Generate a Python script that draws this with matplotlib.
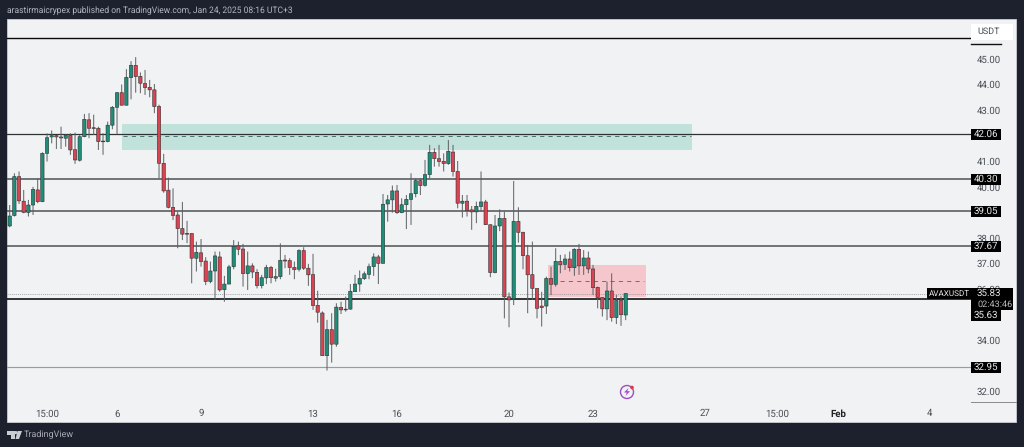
import matplotlib

matplotlib.use("Agg")
import matplotlib.pyplot as plt
from matplotlib.patches import Circle, Polygon, Rectangle
from matplotlib.transforms import blended_transform_factory

plt.rcParams["font.family"] = ["Roboto", "DejaVu Sans"]
plt.rcParams["text.hinting"] = "no_hinting"

W, H = 1024, 447

# 4h candles
opens = [
    38.47, 38.88, 40.40, 39.44, 39.00, 39.29, 39.88, 39.42, 41.31, 41.95,
    42.00, 41.95, 41.90, 42.01, 41.45, 41.04, 41.96, 42.62, 42.31, 42.29,
    41.79, 41.77, 42.41, 43.11, 43.68, 43.19, 44.27, 44.75, 44.32, 44.04,
    43.89, 43.79, 43.14, 40.92, 39.87, 39.20, 38.90, 38.37, 38.18, 38.18,
    37.21, 37.42, 37.10, 36.30, 36.71, 37.26, 35.98, 36.20, 36.88, 37.69,
    37.57, 36.61, 36.91, 36.66, 36.14, 36.44, 36.85, 36.43, 36.49, 37.14,
    37.12, 36.85, 36.78, 37.51, 36.82, 36.57, 35.37, 35.07, 33.40, 34.42,
    33.85, 35.29, 35.21, 35.22, 35.90, 36.20, 36.41, 36.58, 36.88, 37.26,
    37.01, 39.33, 39.49, 39.84, 38.99, 39.30, 39.51, 39.73, 40.24, 40.06,
    40.48, 41.35, 41.10, 41.00, 40.91, 41.36, 40.60, 39.36, 39.44, 39.10,
    39.02, 39.23, 39.41, 38.52, 36.65, 38.47, 38.77, 35.70, 35.62, 38.65,
    38.22, 37.31, 36.57, 36.03, 35.34, 35.34, 36.42, 36.19, 37.09, 36.97,
    37.18, 36.84, 37.56, 36.91, 37.22, 36.79, 36.07, 35.68, 35.23, 35.93,
    34.89, 35.56, 34.99,
]
closes = [
    38.86, 40.40, 39.45, 39.00, 39.29, 39.90, 39.42, 41.31, 41.92, 42.00,
    41.95, 41.91, 42.01, 41.44, 41.05, 41.96, 42.64, 42.29, 42.28, 41.77,
    41.76, 42.41, 43.11, 43.68, 43.19, 44.28, 44.75, 44.31, 44.05, 43.88,
    43.79, 43.14, 40.92, 39.84, 39.20, 38.88, 38.37, 38.15, 38.15, 37.21,
    37.44, 37.08, 36.30, 36.71, 37.30, 35.97, 36.20, 36.87, 37.67, 37.56,
    36.61, 36.91, 36.67, 36.14, 36.45, 36.85, 36.45, 36.49, 37.13, 37.10,
    36.85, 36.76, 37.51, 36.82, 36.56, 35.36, 35.10, 33.40, 34.42, 33.85,
    35.30, 35.19, 35.19, 35.92, 36.20, 36.42, 36.60, 36.88, 37.26, 37.01,
    39.32, 39.49, 39.84, 38.99, 39.30, 39.51, 39.73, 40.24, 40.05, 40.48,
    41.35, 41.10, 40.99, 40.91, 41.39, 40.60, 39.36, 39.44, 39.07, 39.02,
    39.24, 39.41, 38.52, 36.65, 38.47, 38.77, 35.70, 35.58, 38.65, 38.22,
    37.31, 36.56, 36.03, 35.25, 35.28, 36.42, 36.19, 37.09, 36.95, 37.18,
    36.84, 37.56, 36.91, 37.22, 36.79, 36.06, 35.67, 35.23, 35.93, 34.89,
    35.56, 35.00, 35.83,
]
highs = [
    39.29, 40.53, 40.60, 39.88, 39.49, 40.00, 40.33, 41.35, 42.09, 42.20,
    42.03, 42.35, 42.05, 42.09, 42.12, 42.03, 42.85, 42.88, 42.82, 42.35,
    42.10, 42.55, 43.16, 43.70, 44.00, 44.60, 44.91, 45.07, 44.47, 44.57,
    44.18, 44.02, 43.21, 41.29, 40.36, 39.94, 39.03, 39.41, 38.67, 38.18,
    37.86, 37.96, 37.25, 37.08, 37.47, 37.47, 36.52, 36.95, 37.92, 37.86,
    37.77, 37.47, 37.01, 36.78, 36.56, 36.95, 36.91, 36.80, 37.79, 37.34,
    37.21, 37.08, 37.56, 37.64, 36.99, 37.38, 35.94, 35.13, 34.80, 35.06,
    35.45, 35.51, 35.71, 36.20, 36.56, 36.73, 36.69, 37.00, 37.40, 37.34,
    39.72, 39.68, 40.05, 40.07, 39.55, 39.68, 40.53, 40.34, 40.34, 41.05,
    41.64, 41.51, 41.64, 41.31, 41.83, 41.64, 41.01, 39.68, 39.68, 39.25,
    39.42, 40.60, 39.49, 38.52, 38.90, 39.12, 39.03, 35.87, 40.23, 39.20,
    38.25, 37.73, 37.86, 36.03, 35.90, 36.49, 36.88, 37.60, 37.34, 37.36,
    37.47, 37.60, 37.77, 37.53, 37.47, 36.95, 36.10, 35.68, 36.29, 36.62,
    35.77, 35.71, 35.84,
]
lows = [
    38.42, 38.84, 39.33, 38.97, 38.84, 38.90, 39.36, 39.40, 40.99, 41.70,
    41.48, 41.48, 41.57, 41.25, 40.90, 40.99, 41.94, 41.90, 42.03, 41.44,
    41.25, 41.74, 42.25, 42.05, 43.19, 43.19, 43.42, 43.68, 43.66, 43.59,
    43.50, 42.88, 40.33, 39.77, 39.16, 38.70, 37.60, 37.92, 37.80, 36.23,
    36.69, 36.88, 36.16, 36.23, 35.58, 35.90, 35.51, 36.20, 36.78, 37.33,
    36.10, 35.97, 36.43, 36.03, 36.03, 36.20, 36.23, 36.30, 36.39, 36.82,
    36.56, 36.39, 36.69, 36.75, 36.13, 35.19, 34.69, 33.40, 32.82, 33.13,
    33.75, 35.03, 35.12, 35.20, 35.90, 35.90, 36.36, 36.39, 36.52, 36.20,
    37.01, 38.64, 38.99, 38.94, 38.97, 38.35, 38.51, 39.59, 39.68, 40.01,
    40.34, 40.79, 40.79, 40.60, 40.86, 40.40, 39.16, 38.80, 38.84, 38.32,
    38.58, 39.03, 38.51, 36.47, 36.62, 38.27, 34.86, 34.51, 35.38, 37.82,
    36.78, 35.06, 35.58, 34.86, 34.54, 35.03, 35.77, 36.10, 36.62, 36.75,
    36.69, 36.52, 36.56, 36.56, 36.62, 35.77, 35.25, 34.93, 34.79, 34.73,
    34.64, 34.57, 34.79,
]

# horizontal levels and how they look in the reference
level_prices = [45.82, 42.06, 40.30, 39.05, 37.67, 35.63, 32.95]
level_colors = ["#0a0a0a", "#2e3436", "#55585a", "#55585a", "#55585a", "#000000", "#9a9c9e"]
level_widths = [1.0, 0.9, 1.15, 1.15, 1.15, 1.1, 0.85]
boxed_levels = ["42.06", "40.30", "39.05", "37.67", "35.63", "32.95"]

price_ticks = [45, 44, 43, 42, 41, 40, 39, 38, 37, 36, 35, 34, 33, 32]
hidden_ticks = [42, 39, 35, 33]
time_ticks = [8, 23, 41, 65, 83, 107, 125, 149, 164.4, 177.5, 197]
time_labels = ["15:00", "6", "9", "13", "16", "20", "23", "27", "15:00", "Feb", "4"]

last_price = 35.83
countdown = "02:43:46"
symbol = "AVAXUSDT"
title = "arastirmaicrypex published on TradingView.com, Jan 24, 2025 08:16 UTC+3"

DARK = "#1d212d"
PANEL = "#f0f2f4"
UP = "#1f8d78"
DOWN = "#da4351"


def fx(x):
    return x / W


def fy(y):
    return 1 - y / H


fig = plt.figure(figsize=(W / 100, H / 100), dpi=100, facecolor=DARK)

# light panel behind chart and both axes
fig.add_artist(Rectangle((fx(7), fy(422)), fx(1009), 403 / H, transform=fig.transFigure,
                         facecolor=PANEL, edgecolor="#c9ccd1", linewidth=0.6, zorder=0))

ax = fig.add_axes([fx(7), fy(402), fx(964), 383 / H])
ax.patch.set_alpha(0)
ax.set_xlim(-0.58, 206.0)
ax.set_ylim(31.59, 46.56)
for spine in ax.spines.values():
    spine.set_visible(False)

ax.yaxis.tick_right()
ax.set_yticks([p for p in price_ticks if p not in hidden_ticks])
ax.set_yticklabels([f"{p:.2f}" for p in price_ticks if p not in hidden_ticks],
                   fontsize=6.9, color="#4a4d55")
ax.tick_params(axis="y", length=0, pad=4.0)
ax.set_xticks(time_ticks)
ax.set_xticklabels(time_labels, fontsize=6.9, color="#4a4d55")
ax.tick_params(axis="x", length=0, pad=5.0)
ax.get_xticklabels()[9].set_fontweight("bold")
ax.get_xticklabels()[9].set_color("#222428")

# zones
ax.axhspan(41.44, 42.44, xmin=(122 - 7) / 964, xmax=(692 - 7) / 964, facecolor="#c0e2da", edgecolor="none", zorder=1)
ax.plot([24.2, 146], [41.99, 41.99], color="#3f5c58", lw=0.6, dashes=(5, 5), zorder=1.2)
ax.axhspan(35.7, 36.93, xmin=(548 - 7) / 964, xmax=(646 - 7) / 964, facecolor="#f5c6cc", edgecolor="none", zorder=1)
ax.plot([117.9, 135.9], [36.3, 36.3], color="#8a4a52", lw=0.6, dashes=(5, 5), zorder=1.2)
ax.plot([-0.58, 196.3], [last_price, last_price], color="#8a8c90", lw=0.5, dashes=(1.5, 1.5), zorder=1.3)

for price, color, width in zip(level_prices, level_colors, level_widths):
    ax.axhline(price, color=color, lw=width, zorder=1.5)

# candles
for i, (o, c, h, l) in enumerate(zip(opens, closes, highs, lows)):
    ax.plot([i, i], [l, h], color="#5c5f62", lw=0.7, solid_capstyle="butt", zorder=3, snap=False)
    body = Rectangle((i - 0.36, min(o, c)), 0.72, max(abs(c - o), 0.03), snap=False,
                     facecolor=UP if c >= o else DOWN, edgecolor="#2a3434", linewidth=0.4, zorder=3.2)
    ax.add_patch(body)

# boxes on the price scale
side = ax.get_yaxis_transform()
box_w = 30 / 964
for text in boxed_levels:
    price = float(text)
    y = price
    if text == "35.63":
        y = 34.97  # pushed down under the countdown in the stack
    ax.add_patch(Rectangle((1.0, y - 0.215), box_w, 0.43, transform=side, facecolor="black",
                           edgecolor="none", clip_on=False, zorder=6))
    ax.text(1.0 + box_w / 2, y, text, transform=side, color="#e8e8e8", fontsize=7.0,
            ha="center", va="center", clip_on=False, zorder=7)

# last price stack
ax.add_patch(Rectangle((1.0, 35.19), 42 / 964, 0.86, transform=side, facecolor="black",
                       edgecolor="none", clip_on=False, zorder=6))
ax.text(1.0 + 6 / 964, 35.83, f"{last_price:.2f}", transform=side, color="#e8e8e8", fontsize=7.0,
        va="center", clip_on=False, zorder=7)
ax.text(1.0 + 6 / 964, 35.41, countdown, transform=side, color="#b8b8b8", fontsize=6.6,
        va="center", clip_on=False, zorder=7)
ax.add_patch(Rectangle((1.0 - 44 / 964, 35.61), 44 / 964, 0.43, transform=side, facecolor="black",
                       edgecolor="none", clip_on=False, zorder=6))
ax.text(1.0 - 22 / 964, 35.83, symbol, transform=side, color="#e8e8e8", fontsize=5.9,
        ha="center", va="center", clip_on=False, zorder=7)

# currency box and the stub under it
fig.add_artist(Rectangle((fx(971), fy(40)), fx(42), 16 / H, transform=fig.transFigure,
                         facecolor="white", edgecolor="none", zorder=4))
fig.text(fx(989), fy(31.5), "USDT", fontsize=6.5, color="#4a4d55", ha="center", va="center", zorder=5)
fig.add_artist(plt.Line2D([fx(971), fx(1001)], [fy(43.5), fy(43.5)], color="#111111", lw=1.0))
fig.add_artist(plt.Line2D([fx(971), fx(1016)], [fy(402), fy(402)], color="#888a8e", lw=0.7))

# lightning icon
aspect = blended_transform_factory(fig.dpi_scale_trans, fig.dpi_scale_trans)
cx, cy = 627 / 100, (H - 392) / 100
fig.add_artist(Circle((cx, cy), 0.065, transform=aspect, facecolor="none", edgecolor="#9b4fc4", linewidth=1.0))
bolt = [(0.015, 0.04), (-0.03, -0.005), (-0.002, -0.005), (-0.015, -0.04), (0.03, 0.008), (0.002, 0.008)]
fig.add_artist(Polygon([(cx + a, cy + b) for a, b in bolt], transform=aspect, facecolor="#9b4fc4", edgecolor="none"))
fig.add_artist(Circle((cx + 0.05, cy + 0.045), 0.018, transform=aspect, facecolor="#e0364a", edgecolor="none"))

# header and footer
fig.text(fx(7), fy(11), title, fontsize=6.15, color="#b4b7c0", va="center")
fig.text(fx(24), fy(435), "TradingView", fontsize=6.5, color="#a9acb5", va="center")
logo_a = [(7, 431), (15, 431), (15, 439), (11, 439), (11, 434.5), (7, 434.5)]
logo_b = [(17.5, 431), (22, 431), (19, 439), (15.5, 439)]
for shape in (logo_a, logo_b):
    fig.add_artist(Polygon([(fx(a), fy(b)) for a, b in shape], transform=fig.transFigure,
                           facecolor="#c9ccd3", edgecolor="none"))
fig.add_artist(Circle((15.8 / 100, (H - 432.6) / 100), 0.016, transform=aspect, facecolor="#c9ccd3", edgecolor="none"))

fig.savefig("out.png", dpi=100, facecolor=fig.get_facecolor())
